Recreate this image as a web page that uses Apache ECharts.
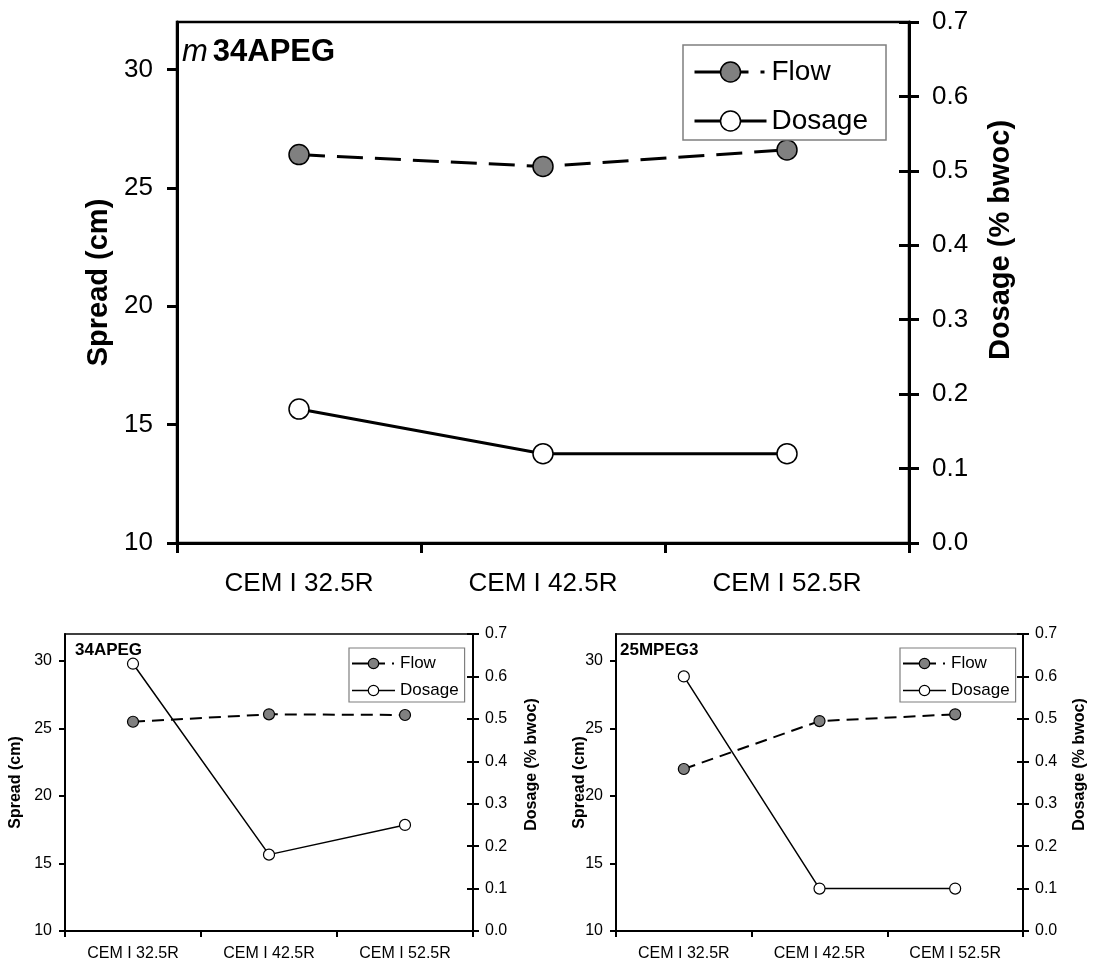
<!DOCTYPE html>
<html>
<head>
<meta charset="utf-8">
<title>Spread and dosage by cement type</title>
<script src="https://cdn.jsdelivr.net/npm/echarts@6/dist/echarts.min.js"></script>
<style>
  html, body { margin: 0; padding: 0; background: #fff; }
  .panel { position: absolute; }
</style>
</head>
<body>
<div id="main" class="panel" style="left:0;top:0;width:1096px;height:600px"></div>
<div id="left" class="panel" style="left:0;top:600px;width:548px;height:365px"></div>
<div id="right" class="panel" style="left:548px;top:600px;width:548px;height:365px"></div>
<script>
// Cement types on the category axis
const cements = ['CEM I 32.5R', 'CEM I 42.5R', 'CEM I 52.5R'];
// Labelled ticks of the spread axis (axis runs 10..32)
const spreadTicks = [10, 15, 20, 25, 30];

// m34APEG: spread (cm) and superplasticiser dosage (% bwoc)
const m34apegFlow = [26.4, 25.9, 26.6];
const m34apegDosage = [0.18, 0.12, 0.12];
// 34APEG
const apeg34Flow = [25.5, 26.05, 26.0];
const apeg34Dosage = [0.63, 0.18, 0.25];
// 25MPEG3
const mpeg25Flow = [22.0, 25.55, 26.05];
const mpeg25Dosage = [0.60, 0.10, 0.10];

const FONT = '"Liberation Sans", Arial, Helvetica, sans-serif';
const BLACK = '#000';

function buildOption(c) {
  const axisLine = { show: true, lineStyle: { color: BLACK, width: c.axisW } };
  const tickStyle = { color: BLACK, width: c.tickW };
  const labelStyle = { color: BLACK, fontSize: c.labelSize, fontFamily: FONT };
  const nameStyle = { color: BLACK, fontSize: c.nameSize, fontWeight: 'bold', fontFamily: FONT };
  return {
    animation: false,
    backgroundColor: '#fff',
    textStyle: { fontFamily: FONT },
    title: {
      text: c.title,
      left: c.titleLeft,
      top: c.titleTop,
      padding: 0,
      textStyle: {
        rich: {
          i: { fontSize: c.titleSize, fontStyle: 'italic', fontWeight: 'normal', color: BLACK, fontFamily: FONT },
          b: { fontSize: c.titleSize, fontWeight: 'bold', color: BLACK, fontFamily: FONT, padding: c.titleGapPad }
        }
      }
    },
    legend: {
      orient: 'vertical',
      left: c.legendLeft,
      top: c.legendTop,
      padding: c.legendPad,
      itemWidth: c.legendItemW,
      itemHeight: c.legendItemH,
      itemGap: c.legendGap,
      selectedMode: false,
      backgroundColor: '#fff',
      borderColor: '#7f7f7f',
      borderWidth: c.legendBorder,
      borderRadius: 0,
      textStyle: { color: BLACK, fontSize: c.legendSize, fontFamily: FONT },
      data: [
        {
          name: 'Flow',
          lineStyle: { type: c.legendDash, width: c.flowW, color: BLACK },
          itemStyle: { color: '#808080', borderColor: BLACK, borderWidth: c.markerBorder }
        },
        {
          name: 'Dosage',
          lineStyle: { type: 'solid', width: c.dosageW, color: BLACK },
          itemStyle: { color: '#fff', borderColor: BLACK, borderWidth: c.markerBorder }
        }
      ]
    },
    grid: {
      left: c.grid[0], right: c.grid[1], top: c.grid[2], height: c.grid[3],
      show: true, borderColor: BLACK, borderWidth: c.border,
      backgroundColor: 'transparent', containLabel: false
    },
    xAxis: {
      type: 'category',
      data: cements,
      boundaryGap: true,
      axisLine: axisLine,
      axisTick: { show: true, length: c.tick, lineStyle: tickStyle },
      axisLabel: Object.assign({ margin: c.xMargin, interval: 0 }, labelStyle),
      splitLine: { show: false }
    },
    yAxis: [
      {
        type: 'value', position: 'left', min: 10, max: 32, interval: 5,
        name: 'Spread (cm)', nameLocation: 'middle', nameRotate: 90,
        nameGap: c.leftNameGap, nameMoveOverlap: false,
        nameTextStyle: Object.assign({ padding: c.leftNamePad }, nameStyle),
        axisLine: axisLine,
        axisTick: { show: true, length: c.tick, lineStyle: tickStyle, customValues: spreadTicks },
        axisLabel: Object.assign({ margin: c.yMargin, customValues: spreadTicks }, labelStyle),
        splitLine: { show: false }
      },
      {
        type: 'value', position: 'right', min: 0, max: 0.7, interval: 0.1,
        name: 'Dosage (% bwoc)', nameLocation: 'middle', nameRotate: 90,
        nameGap: c.rightNameGap, nameMoveOverlap: false,
        nameTextStyle: Object.assign({ padding: c.rightNamePad }, nameStyle),
        axisLine: axisLine,
        axisTick: { show: true, length: c.tick, lineStyle: tickStyle },
        axisLabel: Object.assign({ margin: c.rMargin, formatter: v => v.toFixed(1) }, labelStyle),
        splitLine: { show: false }
      },
      {
        // inner half of the crossing ticks on the dosage axis
        type: 'value', position: 'right', min: 0, max: 0.7, interval: 0.1,
        axisLine: { show: false },
        axisTick: { show: true, inside: true, length: c.tick, lineStyle: tickStyle },
        axisLabel: { show: false },
        splitLine: { show: false }
      }
    ],
    series: [
      {
        name: 'Flow', type: 'line', yAxisIndex: 0, data: c.flow,
        symbol: 'circle', symbolSize: c.symbol,
        itemStyle: { color: '#808080', borderColor: BLACK, borderWidth: c.markerBorder },
        lineStyle: { color: BLACK, width: c.flowW, type: c.dash },
        emphasis: { disabled: true }, z: 3
      },
      {
        name: 'Dosage', type: 'line', yAxisIndex: 1, data: c.dosage,
        symbol: 'circle', symbolSize: c.symbol,
        itemStyle: { color: '#fff', borderColor: BLACK, borderWidth: c.markerBorder },
        lineStyle: { color: BLACK, width: c.dosageW, type: 'solid' },
        emphasis: { disabled: true }, z: 2
      }
    ]
  };
}

const large = {
  axisW: 3, tickW: 3, tick: 10, border: 2.5,
  labelSize: 26, xMargin: 28, yMargin: 24, rMargin: 23,
  nameSize: 29, leftNameGap: 64, leftNamePad: 0, rightNameGap: 77, rightNamePad: [0, 0, 0, 85],
  symbol: 20, markerBorder: 1.5, flowW: 3, dosageW: 3, dash: [26, 12],
  titleSize: 31, titleGapPad: [0, 0, 0, 5],
  legendItemW: 72, legendItemH: 25, legendGap: 21, legendSize: 28, legendBorder: 1.5,
  legendPad: [13, 18, 5, 10], legendDash: [54, 12, 4, 100]
};
const small = {
  axisW: 2, tickW: 2, tick: 6, border: 1.5,
  labelSize: 16, xMargin: 15, yMargin: 13, rMargin: 12,
  nameSize: 16, leftNamePad: 0, rightNamePad: [0, 0, 0, 36],
  symbol: 11, markerBorder: 1.2, flowW: 2, dosageW: 1.5, dash: [12, 7],
  titleSize: 17, titleTop: 42, titleGapPad: 0,
  legendTop: 48, legendItemW: 43, legendItemH: 13, legendGap: 10, legendSize: 17, legendBorder: 1.2,
  legendPad: [7, 6, 3, 2], legendDash: [33, 7, 2, 40]
};

echarts.init(document.getElementById('main'), null, { renderer: 'canvas' }).setOption(buildOption(Object.assign({}, large, {
  grid: [177, 187, 22, 521],
  title: '{i|m}{b|34APEG}', titleLeft: 182, titleTop: 37,
  legendLeft: 683, legendTop: 45,
  flow: m34apegFlow, dosage: m34apegDosage
})));

echarts.init(document.getElementById('left'), null, { renderer: 'canvas' }).setOption(buildOption(Object.assign({}, small, {
  grid: [65, 71, 34, 297],
  leftNameGap: 41, rightNameGap: 51,
  title: '{b|34APEG}', titleLeft: 75,
  legendLeft: 349,
  flow: apeg34Flow, dosage: apeg34Dosage
})));

echarts.init(document.getElementById('right'), null, { renderer: 'canvas' }).setOption(buildOption(Object.assign({}, small, {
  grid: [68, 68, 34, 297],
  leftNameGap: 28, rightNameGap: 49,
  title: '{b|25MPEG3}', titleLeft: 72,
  legendLeft: 352,
  flow: mpeg25Flow, dosage: mpeg25Dosage
})));
</script>
</body>
</html>
